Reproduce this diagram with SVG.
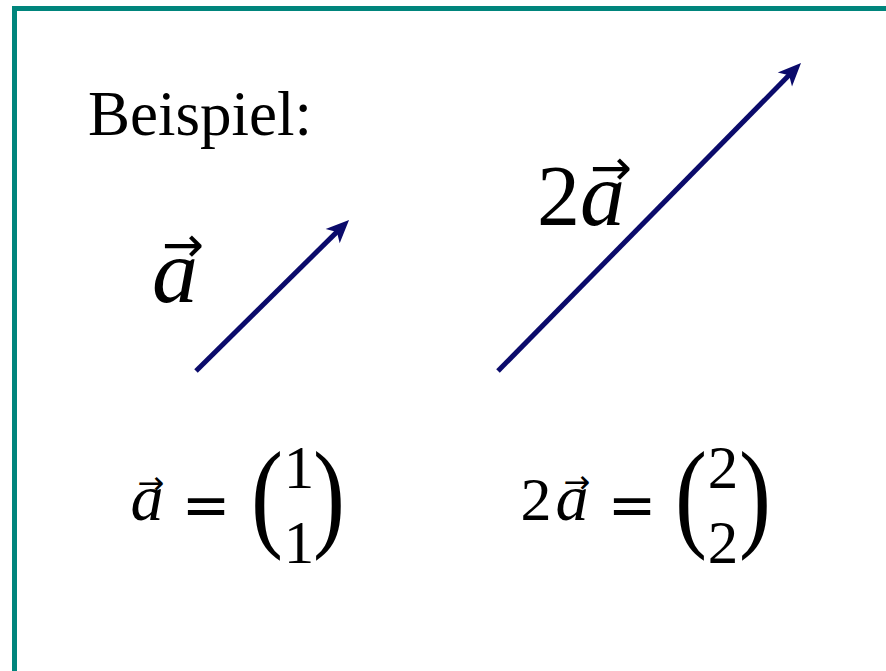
<svg xmlns="http://www.w3.org/2000/svg" width="886" height="671" viewBox="0 0 886 671">
<style>
.serif{font-family:"Liberation Serif","Times New Roman",serif;fill:#000}
.it{font-style:italic}
.math{font-family:"Liberation Serif","Times New Roman",serif;fill:#000;text-anchor:middle}
.eq{font-family:"DejaVu Sans",sans-serif;fill:#000;text-anchor:middle}
.acc{font-family:"DejaVu Sans",sans-serif;fill:#000;text-anchor:middle}
.vec{stroke:#0b0b6b;stroke-width:5;fill:none}
</style>
<defs>
<marker id="head" markerUnits="userSpaceOnUse" viewBox="-26 -12 28 24" refX="-12" refY="0" markerWidth="28" markerHeight="24" orient="auto">
<path d="M0,0 L-23,-10 L-17,0 L-23,10 Z" fill="#0b0b6b"/>
</marker>
</defs>
<rect width="886" height="671" fill="#fff"/>
<path d="M14.5,671 V8.5 H886" fill="none" stroke="#00857c" stroke-width="5"/>
<g id="title"><text class="serif" x="88" y="135" font-size="63">Beispiel:</text></g>
<g id="connectors">
<line class="vec" x1="196" y1="371" x2="340.5" y2="228.4" marker-end="url(#head)"/>
<line class="vec" x1="498" y1="371" x2="792.6" y2="71.6" marker-end="url(#head)"/>
</g>
<g id="label-a">
<text class="serif it" x="152" y="302" font-size="92">a</text>
<text class="acc" x="183" y="262" font-size="50">→</text>
</g>
<g id="label-2a">
<text class="serif" x="537" y="225" font-size="86">2<tspan class="it" font-size="90">a</tspan></text>
<text class="acc" x="611" y="185" font-size="50">→</text>
</g>
<g id="eq-a">
<text class="math it" x="147" y="520" font-size="66">a</text>
<text class="acc" x="151" y="494" font-size="32">→</text>
<text class="eq" x="206" y="525" font-size="58">=</text>
<text class="math" x="267" y="535" font-size="120" transform="translate(267 0) scale(0.8 1) translate(-267 0)">(</text>
<text class="math" x="299" y="488" font-size="61">1</text>
<text class="math" x="299" y="563" font-size="61">1</text>
<text class="math" x="329" y="535" font-size="120" transform="translate(329 0) scale(0.8 1) translate(-329 0)">)</text>
</g>
<g id="eq-2a">
<text class="math" x="536" y="520" font-size="62">2</text>
<text class="math it" x="572" y="520" font-size="66">a</text>
<text class="acc" x="577" y="493" font-size="32">→</text>
<text class="eq" x="632" y="525" font-size="58">=</text>
<text class="math" x="691" y="535" font-size="120" transform="translate(691 0) scale(0.8 1) translate(-691 0)">(</text>
<text class="math" x="723" y="488" font-size="61">2</text>
<text class="math" x="723" y="563" font-size="61">2</text>
<text class="math" x="755" y="535" font-size="120" transform="translate(755 0) scale(0.8 1) translate(-755 0)">)</text>
</g>
</svg>
